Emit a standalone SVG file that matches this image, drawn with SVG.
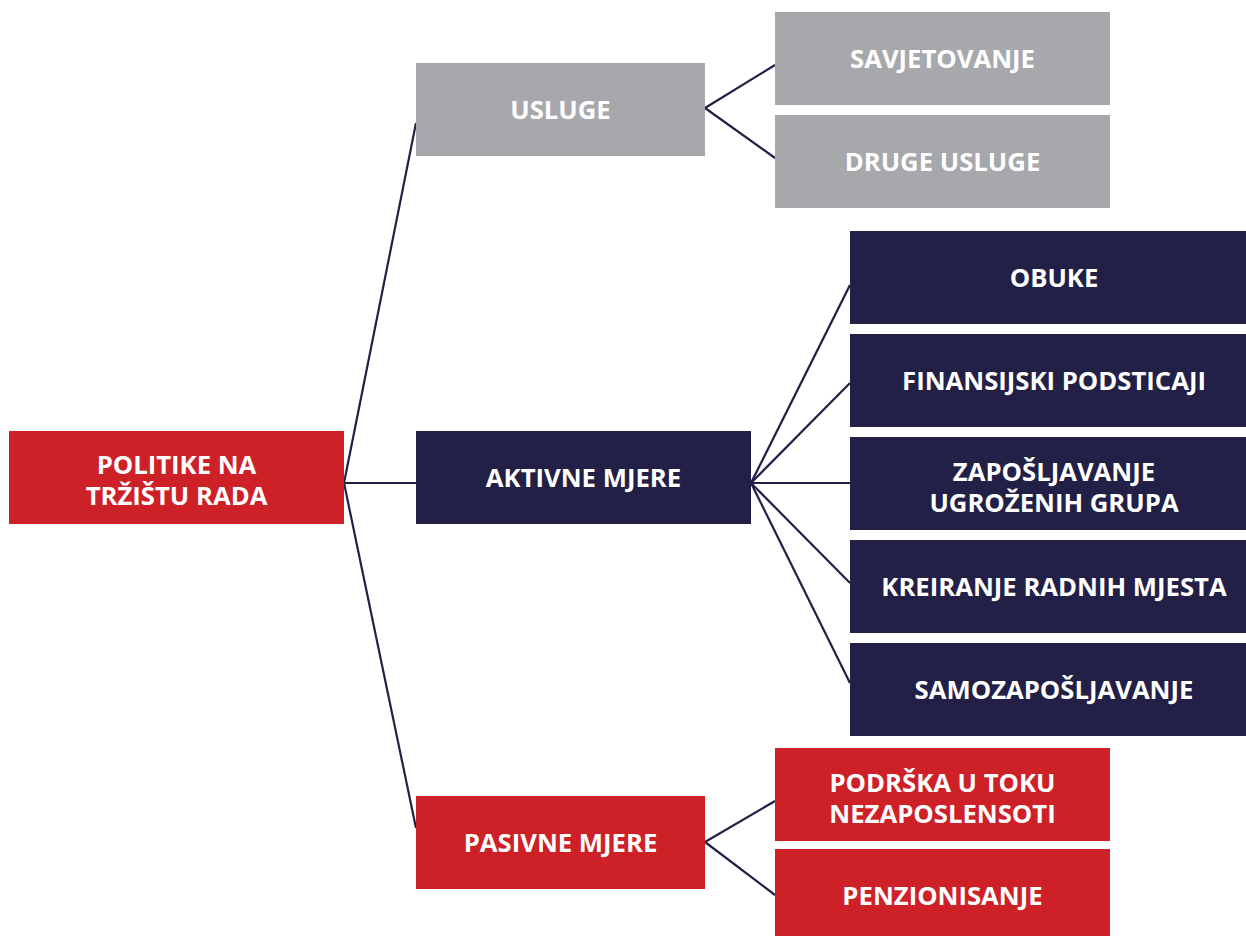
<svg xmlns="http://www.w3.org/2000/svg" width="1246" height="936" viewBox="0 0 1246 936">
<style>
.red{fill:#CE2027}
.navy{fill:#222046}
.gray{fill:#A7A8AB}
text{font-family:"Open Sans","Liberation Sans",sans-serif;font-weight:700;font-size:25.7px;fill:#FFFFFF;text-anchor:middle}
.conn line{stroke:#222046;stroke-width:2.2;fill:none}
</style>
<rect width="1246" height="936" fill="#FFFFFF"/>
<g class="conn" id="connectors">
<line x1="344" y1="483" x2="416" y2="123"/>
<line x1="344" y1="483" x2="416" y2="483"/>
<line x1="344" y1="483" x2="416" y2="828"/>
<line x1="705" y1="108" x2="775" y2="65"/>
<line x1="705" y1="108" x2="775" y2="158"/>
<line x1="751" y1="483" x2="850" y2="285"/>
<line x1="751" y1="483" x2="850" y2="383"/>
<line x1="751" y1="483" x2="850" y2="483"/>
<line x1="751" y1="483" x2="850" y2="583"/>
<line x1="751" y1="483" x2="850" y2="683"/>
<line x1="705" y1="842" x2="775" y2="801"/>
<line x1="705" y1="842" x2="775" y2="895"/>
</g>
<g id="root"><rect class="red" x="9" y="431" width="335" height="93"/><text x="176.5" y="474">POLITIKE NA<tspan x="176.5" dy="31">TRŽIŠTU RADA</tspan></text></g>
<g id="usluge"><rect class="gray" x="416" y="63" width="289" height="93"/><text x="560.5" y="119">USLUGE</text></g>
<g id="savjetovanje"><rect class="gray" x="775" y="12" width="335" height="93"/><text x="942.5" y="68">SAVJETOVANJE</text></g>
<g id="druge"><rect class="gray" x="775" y="115" width="335" height="93"/><text x="942.5" y="171">DRUGE USLUGE</text></g>
<g id="aktivne"><rect class="navy" x="416" y="431" width="335" height="93"/><text x="583.5" y="487">AKTIVNE MJERE</text></g>
<g id="obuke"><rect class="navy" x="850" y="231" width="408" height="93"/><text x="1054" y="287">OBUKE</text></g>
<g id="finansijski"><rect class="navy" x="850" y="334" width="408" height="93"/><text x="1054" y="390">FINANSIJSKI PODSTICAJI</text></g>
<g id="zaposljavanje"><rect class="navy" x="850" y="437" width="408" height="93"/><text x="1054" y="481">ZAPOŠLJAVANJE<tspan x="1054" dy="31">UGROŽENIH GRUPA</tspan></text></g>
<g id="kreiranje"><rect class="navy" x="850" y="540" width="408" height="93"/><text x="1054" y="596">KREIRANJE RADNIH MJESTA</text></g>
<g id="samozaposljavanje"><rect class="navy" x="850" y="643" width="408" height="93"/><text x="1054" y="699">SAMOZAPOŠLJAVANJE</text></g>
<g id="pasivne"><rect class="red" x="416" y="796" width="289" height="93"/><text x="560.5" y="852">PASIVNE MJERE</text></g>
<g id="podrska"><rect class="red" x="775" y="748" width="335" height="93"/><text x="942.5" y="792">PODRŠKA U TOKU<tspan x="942.5" dy="31">NEZAPOSLENSOTI</tspan></text></g>
<g id="penzionisanje"><rect class="red" x="775" y="849" width="335" height="93"/><text x="942.5" y="905">PENZIONISANJE</text></g>
</svg>
